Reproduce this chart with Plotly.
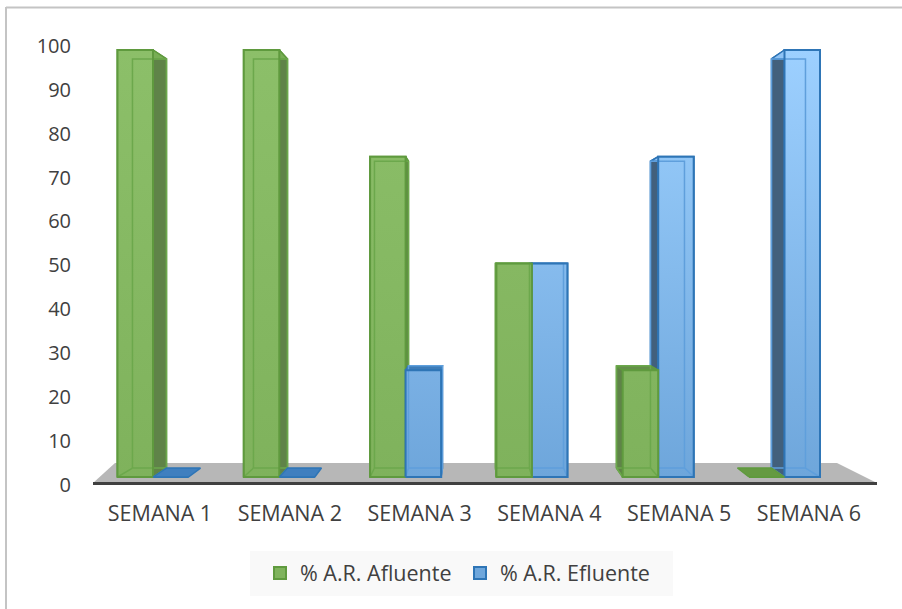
import plotly.graph_objects as go

categories = ["SEMANA 1", "SEMANA 2", "SEMANA 3", "SEMANA 4", "SEMANA 5", "SEMANA 6"]
afluente = [100, 100, 75, 50, 25, 0]
efluente = [0, 0, 25, 50, 75, 100]
y_ticks = [0, 10, 20, 30, 40, 50, 60, 70, 80, 90, 100]

W, H = 902, 609
PL, PR, PT, PB = 93, 877, 30, 486        # plot area in page pixels
BW = 35.5 / 126.3                        # bar width in group units
K = 0.042                                # depth factor of the perspective
XV, YV = 1 + (474 - 153) / 126.3, 50     # vanishing point in bar-axis units

def gx(p): return 1 + (p - 153) / 126.3
def gy(p): return (477 - p) / 4.27
def back(x, y): return x + K * (XV - x), y + K * (YV - y)

def mix(lo, hi, t):
    return "rgb(" + ",".join(str(round(a + (b - a) * t)) for a, b in zip(lo, hi)) + ")"

GREEN = dict(edge="#5f9a3e", inner="#6ca84c", side="#5f8348", cap="#78ae55", undercap="#648f49",
             lo=(127, 178, 92), hi=(140, 191, 105), flat="#659a42", bar="#7fb35c")
BLUE = dict(edge="#2e75b6", inner="#5f9fdc", side="#42607c", cap="#8fc3f5", undercap="#3d7cb8",
            lo=(110, 166, 219), hi=(157, 208, 255), flat="#3f7fbf", bar="#6fa7dc")

fig = go.Figure()

def poly(pts, fill=None, line=None, lw=1.5, grad=None):
    xs = [p[0] for p in pts] + [pts[0][0]]
    ys = [p[1] for p in pts] + [pts[0][1]]
    if grad:
        kw = dict(fillgradient=dict(type="vertical", colorscale=grad), fill="toself")
    elif fill:
        kw = dict(fillcolor=fill, fill="toself")
    else:
        kw = {}
    fig.add_trace(go.Scatter(x=xs, y=ys, xaxis="x2", yaxis="y2", mode="lines",
                             line=dict(color=line or "rgba(0,0,0,0)", width=lw),
                             hoverinfo="skip", showlegend=False, zorder=1, **kw))

def solid(x0, x1, v, st):
    b = [back(x0, 0), back(x1, 0), back(x1, v), back(x0, v)]
    if v == 0:
        poly([(x0, 0), (x1, 0), b[1], b[0]], st["flat"], st["edge"])
        return
    if x1 < XV:
        poly([(x1, 0), b[1], b[2], (x1, v)], st["side"], st["edge"])
    if x0 > XV:
        poly([(x0, 0), b[0], b[3], (x0, v)], st["side"], st["edge"])
    poly([(x0, v), (x1, v), b[2], b[3]], st["cap"] if v >= 50 else st["undercap"], st["edge"])
    poly([(x0, 0), (x1, 0), (x1, v), (x0, v)], grad=[[0, mix(st["lo"], st["hi"], 0)], [1, mix(st["lo"], st["hi"], v / 100)]])
    poly(b, None, st["inner"], 1.5)
    poly([(x0, 0), b[0]], None, st["inner"], 1.5)
    poly([(x1, 0), b[1]], None, st["inner"], 1.5)
    poly([(x0, 0), (x1, 0), (x1, v), (x0, v)], None, st["edge"], 2)

groups = list(range(1, len(categories) + 1))

fig.add_trace(go.Bar(name="% A.R. Afluente", x=groups, y=afluente, xaxis="x2", yaxis="y2",
                     width=BW, offset=-BW, zorder=0,
                     marker=dict(color=GREEN["bar"], line=dict(color=GREEN["edge"], width=2))))
fig.add_trace(go.Bar(name="% A.R. Efluente", x=groups, y=efluente, xaxis="x2", yaxis="y2",
                     width=BW, offset=0, zorder=0,
                     marker=dict(color=BLUE["bar"], line=dict(color=BLUE["edge"], width=2))))

for i, a, e in zip(groups, afluente, efluente):
    parts = [(i - BW, i, a, GREEN), (i, i + BW, e, BLUE)]
    if i > XV:
        parts.reverse()
    for p in parts:
        solid(*p)

# invisible trace that carries the category axis and value axis
fig.add_trace(go.Scatter(x=categories, y=[None] * 6, xaxis="x", yaxis="y", showlegend=False, hoverinfo="skip"))

px = lambda p: (p - PL) / (PR - PL)      # page pixel -> plot-area fraction
py = lambda p: (PB - p) / (PB - PT)
fig.update_layout(
    width=W, height=H, autosize=False, paper_bgcolor="white", plot_bgcolor="rgba(0,0,0,0)",
    margin=dict(l=PL, r=W - PR, t=PT, b=H - PB), barmode="overlay",
    font=dict(family="Open Sans", color="#404040"),
    xaxis=dict(type="category", range=[(PL - 160) / 129.8, (PR - 160) / 129.8], tickfont=dict(size=21.5),
               showgrid=False, showline=False, ticks="", ticklabelstandoff=12),
    yaxis=dict(range=[(484.5 - PB) / 4.385, (484.5 - PT) / 4.385], tickvals=y_ticks, tickfont=dict(size=20), showgrid=False,
               zeroline=False, showline=False, ticks="", ticklabelstandoff=21),
    xaxis2=dict(overlaying="x", range=[gx(PL), gx(PR)], visible=False),
    yaxis2=dict(overlaying="y", range=[gy(PB), gy(PT)], visible=False),
    showlegend=True,
    legend=dict(orientation="h", x=px(268), y=py(573), xanchor="left", yanchor="middle",
                bgcolor="rgba(0,0,0,0)", font=dict(size=21.5), entrywidth=163, traceorder="normal", indentation=-8),
    shapes=[
        dict(type="line", xref="paper", yref="paper", x0=px(6), x1=px(902), y0=py(7.5), y1=py(7.5),
             line=dict(color="#c4c4c4", width=2), layer="below"),
        dict(type="line", xref="paper", yref="paper", x0=px(6), x1=px(6), y0=py(7), y1=py(609),
             line=dict(color="#c4c4c4", width=2), layer="below"),
        dict(type="rect", xref="paper", yref="paper", x0=px(250), x1=px(673), y0=py(551), y1=py(596),
             line=dict(width=0), fillcolor="#f9f9f9", layer="below"),
        dict(type="path", xref="x2", yref="y2", layer="below", fillcolor="#b7b7b7", line=dict(width=0),
             path=f"M {gx(93)} {gy(483)} L {gx(115)} {gy(463)} L {gx(837)} {gy(463)} L {gx(877)} {gy(483)} Z"),
        dict(type="line", xref="paper", yref="paper", x0=0, x1=1, y0=py(483.5), y1=py(483.5),
             line=dict(color="#404040", width=3), layer="above"),
    ],
)
fig.write_html("out.html", post_script="document.body.style.margin='0'", config=dict(displayModeBar=False))
